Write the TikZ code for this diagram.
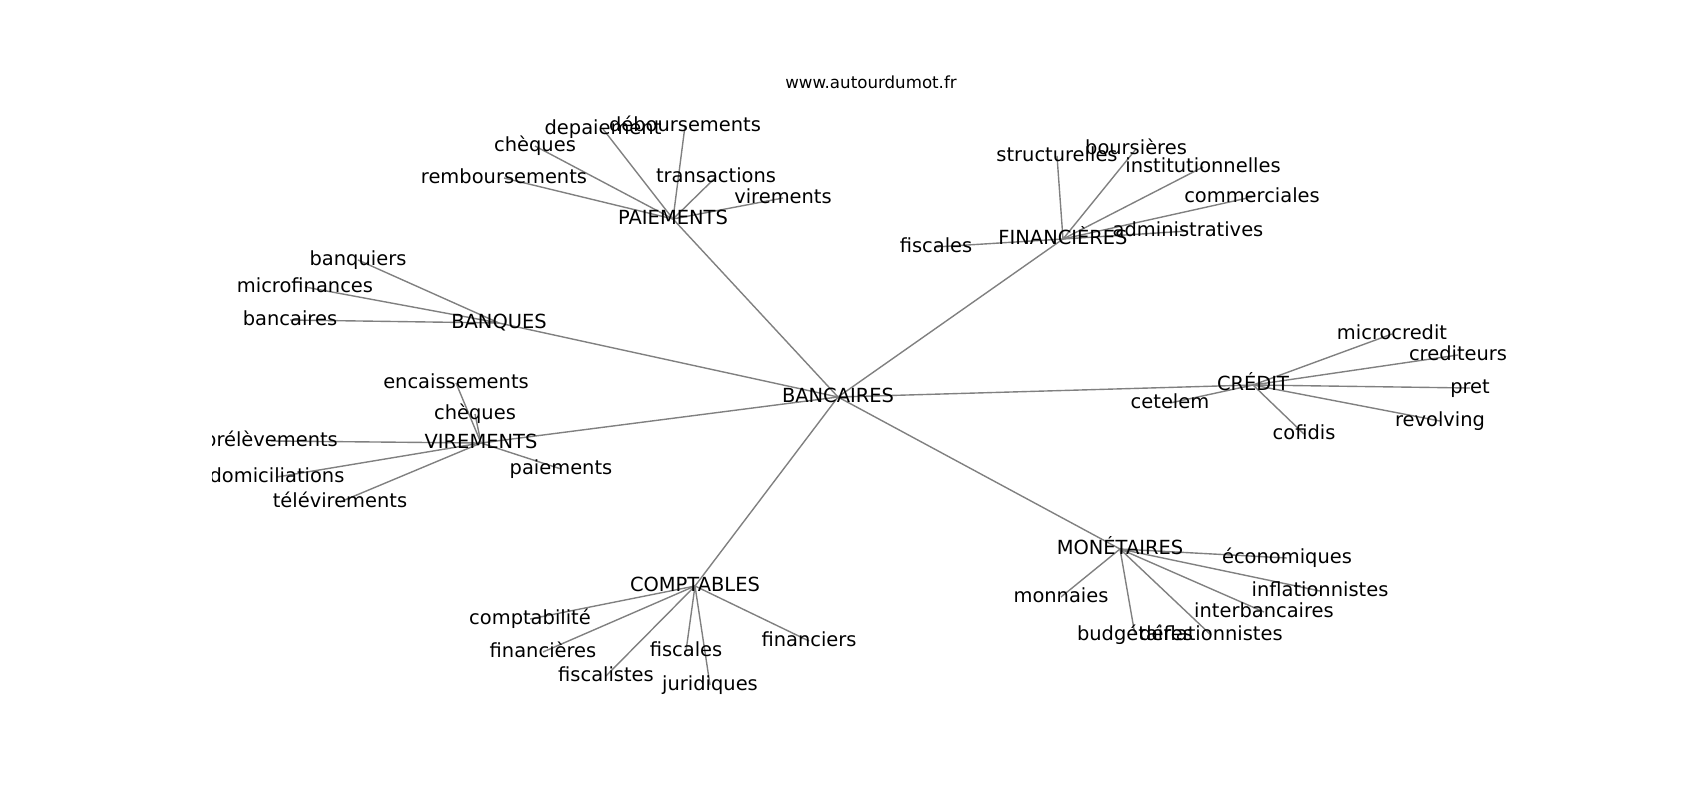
\documentclass[tikz,border=0pt]{standalone}
\usepackage{fontspec}
\setmainfont{DejaVu Sans}
\pgfdeclarelayer{bg}
\pgfsetlayers{bg,main}
\tikzset{
  lbl/.style={inner sep=0pt, text height=0.96em, text depth=0.1em, font=\fontsize{14}{14}\selectfont, text=black},
  edge/.style={draw=gray, line width=1pt}
}
\begin{document}
\begin{tikzpicture}[x=0.72pt,y=-0.72pt]
\useasboundingbox (0,0) rectangle (1700,800);
\node[font=\fontsize{12}{12}\selectfont, anchor=base, inner sep=0pt] (title) at (871,88) {www.autourdumot.fr};
\begin{scope}
\clip (212.5,96) rectangle (1530,712);
% hubs
\node[lbl] (ban) at (838,397) {BANCAIRES};
\node[lbl] (pai) at (673,219) {PAIEMENTS};
\node[lbl] (bnq) at (499,323) {BANQUES};
\node[lbl] (vir) at (481,443) {VIREMENTS};
\node[lbl] (fin) at (1063,239) {FINANCIÈRES};
\node[lbl] (cre) at (1253,385) {CRÉDIT};
\node[lbl] (mon) at (1120,549) {MONÉTAIRES};
\node[lbl] (com) at (695,586) {COMPTABLES};
% paiements
\node[lbl] (debo) at (685,126) {déboursements};
\node[lbl] (depa) at (603,129) {depaiement};
\node[lbl] (cheqA) at (535,146) {chèques};
\node[lbl] (remb) at (504,178) {remboursements};
\node[lbl] (trans) at (716,177) {transactions};
\node[lbl] (virm) at (783,198) {virements};
% banques
\node[lbl] (banq) at (358,260) {banquiers};
\node[lbl] (micf) at (305,287) {microfinances};
\node[lbl] (banc) at (290,320) {bancaires};
% virements
\node[lbl] (enca) at (456,383) {encaissements};
\node[lbl] (cheqB) at (475,414) {chèques};
\node[lbl] (prel) at (271,441) {prélèvements};
\node[lbl] (domi) at (277,477) {domiciliations};
\node[lbl] (tele) at (340,502) {télévirements};
\node[lbl] (paie) at (561,469) {paiements};
% financieres
\node[lbl] (stru) at (1057,156) {structurelles};
\node[lbl] (bour) at (1136,149) {boursières};
\node[lbl] (inst) at (1203,167) {institutionnelles};
\node[lbl] (comm) at (1252,197) {commerciales};
\node[lbl] (admi) at (1188,231) {administratives};
\node[lbl] (fiscA) at (936,247) {fiscales};
% credit
\node[lbl] (micc) at (1392,334) {microcredit};
\node[lbl] (cred) at (1458,355) {crediteurs};
\node[lbl] (pret) at (1470,388) {pret};
\node[lbl] (revo) at (1440,421) {revolving};
\node[lbl] (cofi) at (1304,434) {cofidis};
\node[lbl] (cete) at (1170,403) {cetelem};
% monetaires
\node[lbl] (econ) at (1287,558) {économiques};
\node[lbl] (infl) at (1320,591) {inflationnistes};
\node[lbl] (intb) at (1264,612) {interbancaires};
\node[lbl] (monn) at (1061,597) {monnaies};
\node[lbl] (budg) at (1135,635) {budgétaires};
\node[lbl] (defl) at (1211,635) {déflationnistes};
% comptables
\node[lbl] (cpta) at (530,619) {comptabilité};
\node[lbl] (fnce) at (543,652) {financières};
\node[lbl] (fisc) at (606,676) {fiscalistes};
\node[lbl] (fiscB) at (686,651) {fiscales};
\node[lbl] (juri) at (710,685) {juridiques};
\node[lbl] (fncr) at (809,641) {financiers};
\end{scope}
\begin{pgfonlayer}{bg}
\fill[white] (0,0) rectangle (1700,800);
\foreach \a/\b in {ban/pai,ban/bnq,ban/vir,ban/fin,ban/cre,ban/mon,ban/com,
  pai/debo,pai/depa,pai/cheqA,pai/remb,pai/trans,pai/virm,
  bnq/banq,bnq/micf,bnq/banc,
  vir/enca,vir/cheqB,vir/prel,vir/domi,vir/tele,vir/paie,
  fin/stru,fin/bour,fin/inst,fin/comm,fin/admi,fin/fiscA,
  cre/micc,cre/cred,cre/pret,cre/revo,cre/cofi,cre/cete,
  mon/econ,mon/infl,mon/intb,mon/monn,mon/budg,mon/defl,
  com/cpta,com/fnce,com/fisc,com/fiscB,com/juri,com/fncr}
  \draw[edge] (\a.center) -- (\b.center);
\end{pgfonlayer}
\end{tikzpicture}
\end{document}
